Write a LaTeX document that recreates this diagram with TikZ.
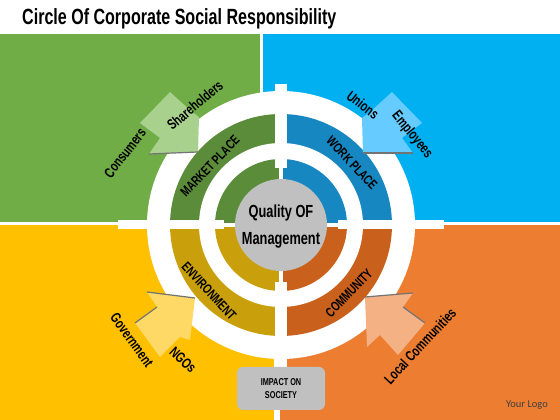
\documentclass[tikz,border=0pt]{standalone}
\usepackage{graphicx}
\usepackage{fontspec}
\newfontfamily\agency{Liberation Sans}
\newfontfamily\logofont{Carlito}
\newcommand\agn[1]{\scalebox{0.73}[1]{#1}}
\definecolor{bggreen}{HTML}{70AD47}
\definecolor{bgblue}{HTML}{00B0F0}
\definecolor{bgyellow}{HTML}{FFC000}
\definecolor{bgorange}{HTML}{ED7D31}
\definecolor{bandgreen}{HTML}{5B8C3A}
\definecolor{bandblue}{HTML}{1787C2}
\definecolor{bandyellow}{HTML}{C9A00C}
\definecolor{bandorange}{HTML}{C9601C}
\definecolor{arrgreen}{HTML}{A9D18E}
\definecolor{arrblue}{HTML}{66CCFF}
\definecolor{arryellow}{HTML}{FFD966}
\definecolor{arrorange}{HTML}{F4B183}
\definecolor{hubgrey}{HTML}{C0C0C0}

\begin{document}
\begin{tikzpicture}[x=1pt, y=1pt, align=center, lbl/.style={inner sep=0,
  font=\agency\bfseries\fontsize{14.5}{16}\selectfont}, bandlbl/.style={inner
  sep=0, font=\agency\bfseries\fontsize{13.5}{15}\selectfont}, shadeline/.style={
  draw=black!55, line width=1.2pt} ]

\useasboundingbox (0,0) rectangle (560,420);
\fill[white] (0,0) rectangle (560,420);

% Quadrant backgrounds
\fill[bggreen] (0,198) rectangle (260,386);
\fill[bgblue] (263,198) rectangle (560,386);
\fill[bgyellow] (0,0) rectangle (274,195);
\fill[bgorange] (280,0) rectangle (560,195);

% Title
\node[font=\agency\bfseries\fontsize{22}{24}\selectfont, anchor=base west,
  inner sep=0] (title) at (22,395) {\agn{Circle Of Corporate Social
  Responsibility}};

% Rings
\coordinate (C) at (281,195);
\fill[white] (C) circle (134);
\foreach \a/\c in {0/bandblue, 90/bandgreen, 180/bandyellow, 270/bandorange}
  \fill[\c] (C) -- ++(\a:111) arc[start angle=\a, end angle=\a+90,
  radius=111] -- cycle;
\fill[white] (C) circle (82);
\foreach \a/\c in {0/bandblue, 90/bandgreen, 180/bandyellow, 270/bandorange}
  \fill[\c] (C) -- ++(\a:66) arc[start angle=\a, end angle=\a+90,
  radius=66] -- cycle;

% Cross
\fill[white] (C) ++(-2,-70) rectangle ++(4,140);
\fill[white] (C) ++(-70,-2) rectangle ++(140,4);
\fill[white] (C) ++(-6,57) rectangle ++(12,84);
\fill[white] (C) ++(-6,-57) rectangle ++(12,-85);
\fill[white] (C) ++(-57,-4.5) rectangle ++(-106,9);
\fill[white] (C) ++(57,-4.5) rectangle ++(106,9);

% Hub
\node[circle, fill=hubgrey, minimum size=92, inner sep=0] (hub) at (C) {};
\node[font=\agency\bfseries\fontsize{17.5}{27}\selectfont, inner sep=0]
  (quality) at ([yshift=-2]hub.center) {\agn{Quality OF}\\\agn{Management}};

% Arrows
\fill[arrgreen] (198,268) -- (149,266) -- (160,282) -- (140,297) --
  (170,328) -- (192,308) -- (199,303) -- cycle;
\draw[shadeline] (149,266) -- (198,268);
\fill[arrblue] (363,267) -- (413,267) -- (402,282) -- (422,297) --
  (392,328) -- (370,308) -- (362,302) -- cycle;
\draw[shadeline] (363,267) -- (413,267);
\fill[arryellow] (195,122) -- (147,128) -- (157,113) -- (135,97) --
  (160,63) -- (180,83) -- (190,80) -- cycle;
\draw[shadeline] (147,128) -- (195,122);
\draw[shadeline] (135,97) -- (157,113);
\fill[arrorange] (365,123) -- (413,127) -- (403,113) -- (425,97) --
  (398,65) -- (380,85) -- (367,73) -- cycle;
\draw[shadeline] (365,123) -- (413,127);
\draw[shadeline] (403,113) -- (425,97);

% Labels
\node[lbl, rotate=52] (consumers) at (125,267) {\agn{Consumers}};
\node[lbl, rotate=40] (shareholders) at (195,315) {\agn{Shareholders}};
\node[lbl, rotate=-38] (unions) at (363,315) {\agn{Unions}};
\node[lbl, rotate=-51] (employees) at (412,285) {\agn{Employees}};
\node[lbl, rotate=-54] (government) at (132,80) {\agn{Government}};
\node[lbl, rotate=-43] (ngos) at (183,60) {\agn{NGOs}};
\node[lbl, rotate=47] (local) at (420,74) {\agn{Local Communities}};

% Band labels
\node[bandlbl, rotate=46] (market) at (210,254) {\agn{MARKET PLACE}};
\node[bandlbl, rotate=-47] (work) at (352,257) {\agn{WORK PLACE}};
\node[bandlbl, rotate=-47] (environment) at (209,129) {\agn{ENVIRONMENT}};
\node[bandlbl, rotate=46] (community) at (349,127) {\agn{COMMUNITY}};

% Impact box and logo
\node[fill=hubgrey, rounded corners=6, minimum width=88, minimum height=43,
  inner sep=0, font=\agency\bfseries\fontsize{10}{13}\selectfont] (impact) at
  (281,31.5) {\agn{IMPACT ON}\\\agn{SOCIETY}};
\node[font=\logofont\fontsize{10.5}{12}\selectfont, text=black!75] (logo) at
  (527,15) {Your Logo};

\end{tikzpicture}
\end{document}
